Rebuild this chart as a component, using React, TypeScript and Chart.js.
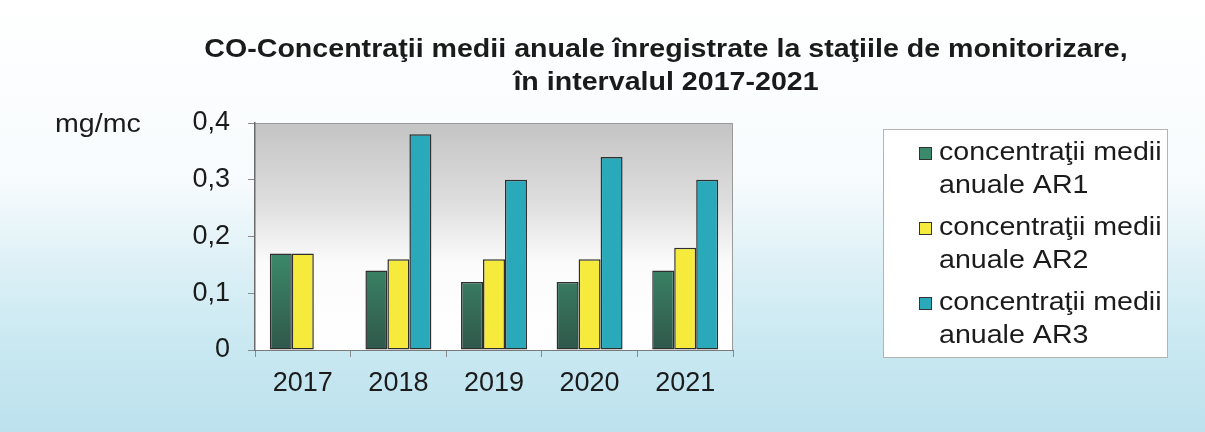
import React, { useEffect, useRef } from "react";
import { Chart, registerables } from "chart.js";

Chart.register(...registerables);

const years = ["2017", "2018", "2019", "2020", "2021"];
const ar1 = [0.17, 0.14, 0.12, 0.12, 0.14];
const ar2 = [0.17, 0.16, 0.16, 0.16, 0.18];
const ar3 = [0, 0.38, 0.3, 0.34, 0.3];
const seriesNames = [
  "concentraţii medii anuale AR1",
  "concentraţii medii anuale AR2",
  "concentraţii medii anuale AR3",
];
const legendLines = [
  ["concentraţii medii", "anuale AR1"],
  ["concentraţii medii", "anuale AR2"],
  ["concentraţii medii", "anuale AR3"],
];
const titleLines = [
  "CO-Concentraţii medii anuale înregistrate la staţiile de monitorizare,",
  "în intervalul 2017-2021",
];
const yUnit = "mg/mc";
const yMin = 0;
const yMax = 0.4;
const yStep = 0.1;

const FONT = '"Liberation Sans", Arial, Helvetica, sans-serif';
const TEXT = "#1b1b1b";
const GREEN_MARK = "#3b8a6c";
const YELLOW = "#f6ea3c";
const TEAL = "#29a9ba";
const STRETCH = 1.1;

function greenFill(ctx: any) {
  const chart = ctx.chart;
  const a = chart.chartArea;
  if (!a) return GREEN_MARK;
  const g = chart.ctx.createLinearGradient(0, a.top, 0, a.bottom);
  g.addColorStop(0, "#46a47f");
  g.addColorStop(0.55, "#3c8c6c");
  g.addColorStop(1, "#30574a");
  return g;
}

const decorPlugin = {
  id: "decor",
  beforeDraw(chart: any) {
    const { ctx, width, height, chartArea: a } = chart;
    ctx.save();
    const bg = ctx.createLinearGradient(0, 0, 0, height);
    bg.addColorStop(0, "#ffffff");
    bg.addColorStop(0.42, "#f7fbfd");
    bg.addColorStop(0.62, "#dcf0f6");
    bg.addColorStop(0.8, "#c9e8f1");
    bg.addColorStop(1, "#bde2ee");
    ctx.fillStyle = bg;
    ctx.fillRect(0, 0, width, height);
    if (a) {
      const pg = ctx.createLinearGradient(0, a.top, 0, a.bottom);
      pg.addColorStop(0, "#c4c4c4");
      pg.addColorStop(0.35, "#dedede");
      pg.addColorStop(0.62, "#fbfbfb");
      pg.addColorStop(1, "#ffffff");
      ctx.fillStyle = pg;
      ctx.fillRect(a.left, a.top, a.right - a.left, a.bottom - a.top);
      ctx.strokeStyle = "#9a9a9a";
      ctx.lineWidth = 1;
      ctx.beginPath();
      ctx.moveTo(a.left, a.top + 0.5);
      ctx.lineTo(a.right - 0.5, a.top + 0.5);
      ctx.lineTo(a.right - 0.5, a.bottom);
      ctx.stroke();
    }
    ctx.restore();
  },
  afterDraw(chart: any) {
    const { ctx } = chart;
    ctx.save();
    // title
    ctx.fillStyle = TEXT;
    ctx.textBaseline = "middle";
    ctx.textAlign = "center";
    ctx.font = `bold 26px ${FONT}`;
    const titleY = [50, 83];
    titleLines.forEach((t, i) => {
      ctx.save();
      ctx.translate(666, titleY[i]);
      ctx.scale(STRETCH, 1);
      ctx.fillText(t, 0, 0);
      ctx.restore();
    });
    // unit
    ctx.textAlign = "left";
    ctx.font = `26px ${FONT}`;
    ctx.save();
    ctx.translate(55, 125);
    ctx.scale(STRETCH, 1);
    ctx.fillText(yUnit, 0, 0);
    ctx.restore();
    // legend box
    const bx = 883, by = 129, bw = 284, bh = 228;
    ctx.fillStyle = "#ffffff";
    ctx.fillRect(bx, by, bw, bh);
    ctx.strokeStyle = "#b4b4b4";
    ctx.lineWidth = 1;
    ctx.strokeRect(bx + 0.5, by + 0.5, bw, bh);
    const markColors = [GREEN_MARK, YELLOW, TEAL];
    legendLines.forEach((lines, i) => {
      const y0 = 153 + i * 75;
      ctx.fillStyle = markColors[i];
      ctx.fillRect(919, y0 - 6, 13, 13);
      ctx.strokeStyle = "#333333";
      ctx.lineWidth = 1;
      ctx.strokeRect(919.5, y0 - 5.5, 12, 12);
      ctx.fillStyle = TEXT;
      ctx.font = `26px ${FONT}`;
      lines.forEach((l, j) => {
        ctx.save();
        ctx.translate(939, y0 + j * 33);
        ctx.scale(STRETCH, 1);
        ctx.fillText(l, 0, 0);
        ctx.restore();
      });
    });
    ctx.restore();
  },
};

export default function App() {
  const ref = useRef<HTMLCanvasElement | null>(null);
  useEffect(() => {
    if (!ref.current) return;
    const chart = new Chart(ref.current, {
      type: "bar",
      data: {
        labels: years,
        datasets: [
          { label: seriesNames[0], data: ar1, backgroundColor: greenFill as any },
          { label: seriesNames[1], data: ar2, backgroundColor: YELLOW },
          { label: seriesNames[2], data: ar3, backgroundColor: TEAL },
        ].map((d) => ({
          ...d,
          borderColor: "#2f2f2f",
          borderWidth: 1.5,
          borderSkipped: false,
          categoryPercentage: 0.69,
          barPercentage: 1,
        })),
      },
      options: {
        animation: false,
        responsive: false,
        maintainAspectRatio: false,
        events: [],
        layout: { padding: { top: 123, right: 472, left: 0, bottom: 0 } },
        plugins: {
          legend: { display: false },
          title: { display: false },
          tooltip: { enabled: false },
        },
        scales: {
          x: {
            afterFit: (s: any) => {
              s.height = 82;
            },
            grid: {
              drawOnChartArea: false,
              tickLength: 7,
              color: "#8a8a8a",
              offset: true,
            },
            border: { color: "#7a7a7a", width: 1 },
            ticks: {
              color: TEXT,
              padding: 10,
              font: { family: FONT, size: 27 },
            },
          },
          y: {
            min: yMin,
            max: yMax,
            afterFit: (s: any) => {
              s.width = 255;
            },
            grid: { drawOnChartArea: false, tickLength: 7, color: "#8a8a8a" },
            border: { color: "#6a6a6a", width: 1.5 },
            ticks: {
              stepSize: yStep,
              color: TEXT,
              padding: 18,
              font: { family: FONT, size: 27 },
              callback: (v: any) =>
                Number(v) === 0 ? "0" : Number(v).toFixed(1).replace(".", ","),
            },
          },
        },
      },
      plugins: [decorPlugin],
    });
    return () => chart.destroy();
  }, []);
  return (
    <div style={{ position: "fixed", left: 0, top: 0, width: 1205, height: 432 }}>
      <canvas ref={ref} width={1205} height={432} style={{ width: 1205, height: 432, display: "block" }} />
    </div>
  );
}
